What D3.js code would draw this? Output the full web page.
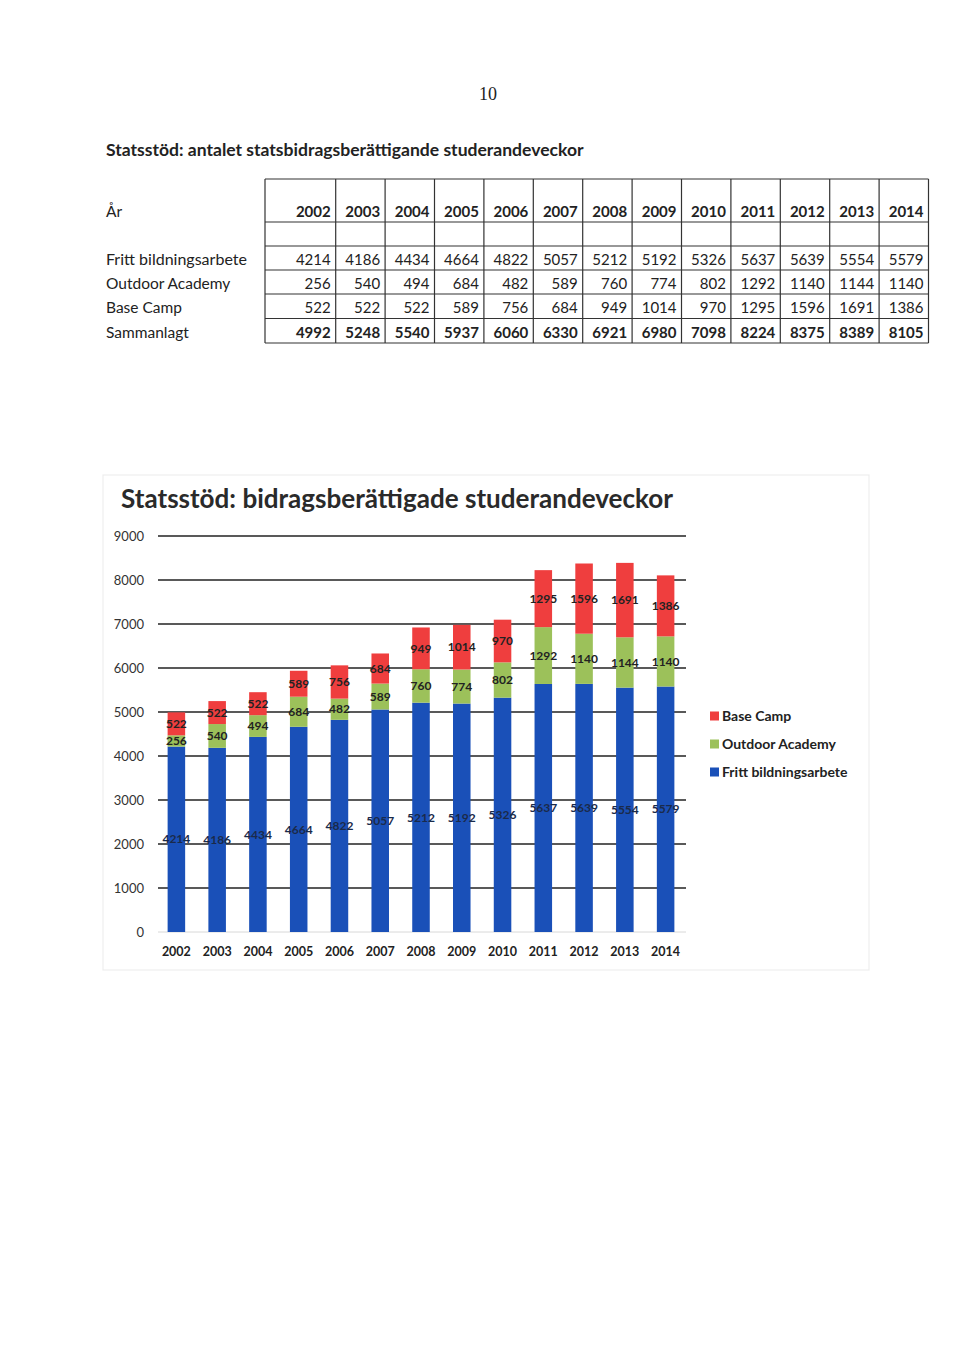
<!DOCTYPE html>
<html><head><meta charset="utf-8">
<script src="https://cdn.jsdelivr.net/npm/d3@7/dist/d3.min.js"></script>
<style>
html,body{margin:0;padding:0;background:#fff;}
svg{display:block;}
text{font-family:Lato,"Open Sans",sans-serif;}
</style></head>
<body><svg id="page" width="960" height="1365"></svg>
<script>
const years = ["2002","2003","2004","2005","2006","2007","2008","2009","2010","2011","2012","2013","2014"];
const fritt = [4214,4186,4434,4664,4822,5057,5212,5192,5326,5637,5639,5554,5579];
const outdoor = [256,540,494,684,482,589,760,774,802,1292,1140,1144,1140];
const baseCamp = [522,522,522,589,756,684,949,1014,970,1295,1596,1691,1386];
const sammanlagt = [4992,5248,5540,5937,6060,6330,6921,6980,7098,8224,8375,8389,8105];
const yTicks = [0,1000,2000,3000,4000,5000,6000,7000,8000,9000];
const seriesNames = ["Fritt bildningsarbete","Outdoor Academy","Base Camp"];
const colors = {"Fritt bildningsarbete":"#1a50b8","Outdoor Academy":"#9cc15a","Base Camp":"#ef3e3e"};
const pageTitle = "Statsstöd: antalet statsbidragsberättigande studerandeveckor";
const chartTitle = "Statsstöd: bidragsberättigade studerandeveckor";

const svg = d3.select("#page");
svg.append("rect").attr("width",960).attr("height",1365).attr("fill","#fff");

function fit(sel, w){
  const n = sel.node(); const cur = n.getComputedTextLength();
  const fs = parseFloat(sel.attr("font-size"));
  sel.attr("font-size", (fs*w/cur).toFixed(2));
}

// page number
svg.append("text").attr("x",488).attr("y",100).attr("text-anchor","middle")
  .attr("font-size",18).style("font-family","'Liberation Serif',serif").attr("fill","#222").text("10");

// page heading
fit(svg.append("text").attr("x",106).attr("y",156).attr("font-size",17).attr("font-weight","bold")
  .attr("fill","#222").text(pageTitle), 478);

// ---------- TABLE ----------
// first year column is wider (265..335.7), the rest share 335.7..928.5
const tx = d3.scaleBand().domain(years.slice(1)).range([335.7,928.5]);
const cellRight = i => i===0 ? 335.7 : tx(years[i])+tx.bandwidth();
const rowLines = [179,222,246,270,294,318.5,343];
const tab = svg.append("g").attr("stroke","#333").attr("stroke-width",1.2);
rowLines.forEach(y=>tab.append("line").attr("x1",265).attr("x2",928.5).attr("y1",y).attr("y2",y));
[265].concat(years.map((y,i)=>cellRight(i))).forEach(x=>
  tab.append("line").attr("x1",x).attr("x2",x).attr("y1",179).attr("y2",343));

const labelRows = [
  {name:"År", y:217, vals:years, bold:true},
  {name:"Fritt bildningsarbete", y:265, vals:fritt},
  {name:"Outdoor Academy", y:289, vals:outdoor},
  {name:"Base Camp", y:313, vals:baseCamp},
  {name:"Sammanlagt", y:338, vals:sammanlagt, bold:true}
];
labelRows.forEach(r=>{
  svg.append("text").attr("x",106).attr("y",r.y).attr("font-size",15.5).attr("fill","#222").text(r.name);
  r.vals.forEach((v,i)=>{
    svg.append("text").attr("x",cellRight(i)-5).attr("y",r.y)
      .attr("text-anchor","end").attr("font-size",15).attr("font-weight",r.bold?"bold":"normal")
      .attr("fill","#222").text(v);
  });
});
fit(svg.selectAll("text").filter(function(){return d3.select(this).text()==="Fritt bildningsarbete";}), 141);

// ---------- CHART ----------
svg.append("rect").attr("x",103).attr("y",475).attr("width",766).attr("height",495)
  .attr("fill","none").attr("stroke","#eeeeee").attr("stroke-width",1.2);

fit(svg.append("text").attr("x",121).attr("y",508).attr("font-size",26).attr("font-weight","bold")
  .attr("fill","#2a2a2a").text(chartTitle), 552);

const x = d3.scaleBand().domain(years).range([156,686]).paddingInner(0.57).paddingOuter(0.285);
const y = d3.scaleLinear().domain([0,9000]).range([932,536]);

const grid = svg.append("g");
yTicks.forEach(t=>{
  grid.append("line").attr("x1",158).attr("x2",686).attr("y1",y(t)).attr("y2",y(t))
    .attr("stroke", t===0 ? "#d8d8d8" : "#222").attr("stroke-width", t===0?1:1.3);
  grid.append("text").attr("x",144).attr("y",y(t)).attr("dy","0.35em").attr("text-anchor","end")
    .attr("font-size",13).attr("fill","#333").text(t);
});

const table = years.map((yr,i)=>({year:yr,"Fritt bildningsarbete":fritt[i],"Outdoor Academy":outdoor[i],"Base Camp":baseCamp[i]}));
const stack = d3.stack().keys(seriesNames)(table);

const layers = svg.append("g").selectAll("g").data(stack).join("g").attr("fill",d=>colors[d.key]);
layers.selectAll("rect").data(d=>d).join("rect")
  .attr("x",d=>x(d.data.year)).attr("width",x.bandwidth())
  .attr("y",d=>y(d[1])).attr("height",d=>y(d[0])-y(d[1]));

const lab = svg.append("g");
stack.forEach(layer=>{
  layer.forEach(d=>{
    lab.append("text").attr("x",x(d.data.year)+x.bandwidth()/2).attr("y",y((d[0]+d[1])/2))
      .attr("dy","0.35em").attr("text-anchor","middle").attr("font-size",12).attr("font-weight","bold")
      .attr("fill", layer.key==="Fritt bildningsarbete" ? "#1a2a4a" : "#222").text(d[1]-d[0]);
  });
});

years.forEach(yr=>{
  svg.append("text").attr("x",x(yr)+x.bandwidth()/2).attr("y",956).attr("text-anchor","middle")
    .attr("font-size",12.5).attr("font-weight","bold").attr("fill","#222").text(yr);
});

// legend
const legendOrder = ["Base Camp","Outdoor Academy","Fritt bildningsarbete"];
const legendY = [716,744,772];
legendOrder.forEach((k,i)=>{
  svg.append("rect").attr("x",710).attr("y",legendY[i]-4.5).attr("width",9).attr("height",9).attr("fill",colors[k]);
  svg.append("text").attr("x",722).attr("y",legendY[i]).attr("dy","0.35em").attr("font-size",14)
    .attr("font-weight","bold").attr("fill","#222").text(k);
});
</script></body></html>
